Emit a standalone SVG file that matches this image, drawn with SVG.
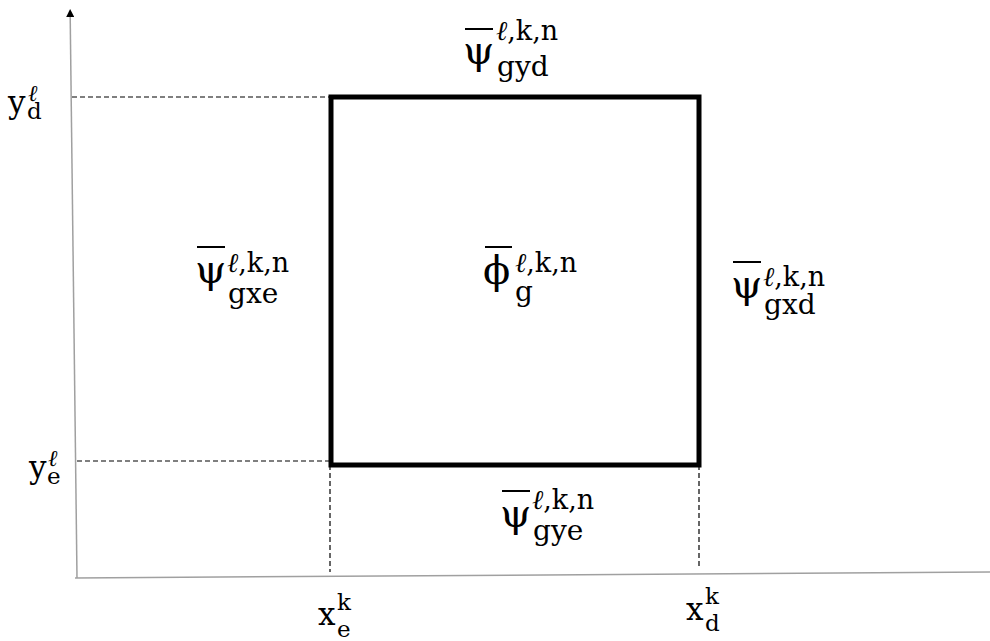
<svg xmlns="http://www.w3.org/2000/svg" width="990" height="641" viewBox="0 0 990 641">
<style>
.t{font-family:"DejaVu Serif","Liberation Serif",serif;fill:#000}
.m{font-size:40px}
.s{font-size:27px}
.u{font-size:28px}
.a{font-size:31px}
.b{font-size:23px}
.l{font-style:italic}
.bar{stroke:#000;stroke-width:2}
.axis{stroke:#a0a0a0;stroke-width:1.5;fill:none}
.dash{stroke:#000;stroke-width:1.2;stroke-dasharray:5 3;fill:none}
</style>
<defs>
<marker id="ah" markerUnits="userSpaceOnUse" viewBox="0 0 8 8" markerWidth="8" markerHeight="8" refX="0" refY="4" orient="auto"><path d="M0,0 L8,4 L0,8 z" fill="#000"/></marker>
</defs>
<rect width="990" height="641" fill="#fff"/>
<g id="connectors">
<line class="axis" x1="77" y1="578" x2="70.2" y2="17" marker-end="url(#ah)"/>
<line class="axis" x1="75" y1="578" x2="990" y2="572"/>
<line class="dash" x1="72" y1="97" x2="331" y2="97"/>
<line class="dash" x1="77" y1="461" x2="331" y2="461"/>
<line class="dash" x1="330" y1="465" x2="330" y2="572"/>
<line class="dash" x1="699" y1="465" x2="699" y2="568"/>
</g>
<g id="cell"><rect x="331" y="97" width="368" height="368" fill="none" stroke="#000" stroke-width="5"/></g>
<g id="label-gyd">
<line class="bar" x1="465" y1="29" x2="493" y2="29"/>
<text class="t"><tspan class="m" x="463" y="64">ψ</tspan><tspan class="s" x="496" y="40"><tspan class="l">ℓ</tspan>,k,n</tspan><tspan class="u" x="497" y="76">gyd</tspan></text>
</g>
<g id="label-gxe">
<line class="bar" x1="197" y1="247" x2="225" y2="247"/>
<text class="t"><tspan class="m" x="195" y="283">ψ</tspan><tspan class="s" x="227" y="272"><tspan class="l">ℓ</tspan>,k,n</tspan><tspan class="u" x="228" y="303">gxe</tspan></text>
</g>
<g id="label-phi">
<line class="bar" x1="485" y1="247" x2="512" y2="247"/>
<text class="t"><tspan class="m" x="483" y="284">ϕ</tspan><tspan class="s" x="515" y="272"><tspan class="l">ℓ</tspan>,k,n</tspan><tspan class="u" x="515" y="301">g</tspan></text>
</g>
<g id="label-gxd">
<line class="bar" x1="733" y1="262" x2="761" y2="262"/>
<text class="t"><tspan class="m" x="731" y="298">ψ</tspan><tspan class="s" x="763" y="286"><tspan class="l">ℓ</tspan>,k,n</tspan><tspan class="u" x="764" y="314">gxd</tspan></text>
</g>
<g id="label-gye">
<line class="bar" x1="502" y1="491" x2="530" y2="491"/>
<text class="t"><tspan class="m" x="500" y="527">ψ</tspan><tspan class="s" x="532" y="509"><tspan class="l">ℓ</tspan>,k,n</tspan><tspan class="u" x="533" y="540">gye</tspan></text>
</g>
<g id="label-yd">
<text class="t"><tspan class="a" x="8" y="113">y</tspan><tspan class="b l" x="28" y="101">ℓ</tspan><tspan class="b" x="27" y="119">d</tspan></text>
</g>
<g id="label-ye">
<text class="t"><tspan class="a" x="29" y="478">y</tspan><tspan class="b l" x="48" y="466">ℓ</tspan><tspan class="b" x="47" y="484">e</tspan></text>
</g>
<g id="label-xe">
<text class="t"><tspan class="a" x="318" y="625">x</tspan><tspan class="b" x="337" y="610">k</tspan><tspan class="b" x="337" y="637">e</tspan></text>
</g>
<g id="label-xd">
<text class="t"><tspan class="a" x="686" y="620">x</tspan><tspan class="b" x="705" y="604">k</tspan><tspan class="b" x="705" y="631">d</tspan></text>
</g>
</svg>
